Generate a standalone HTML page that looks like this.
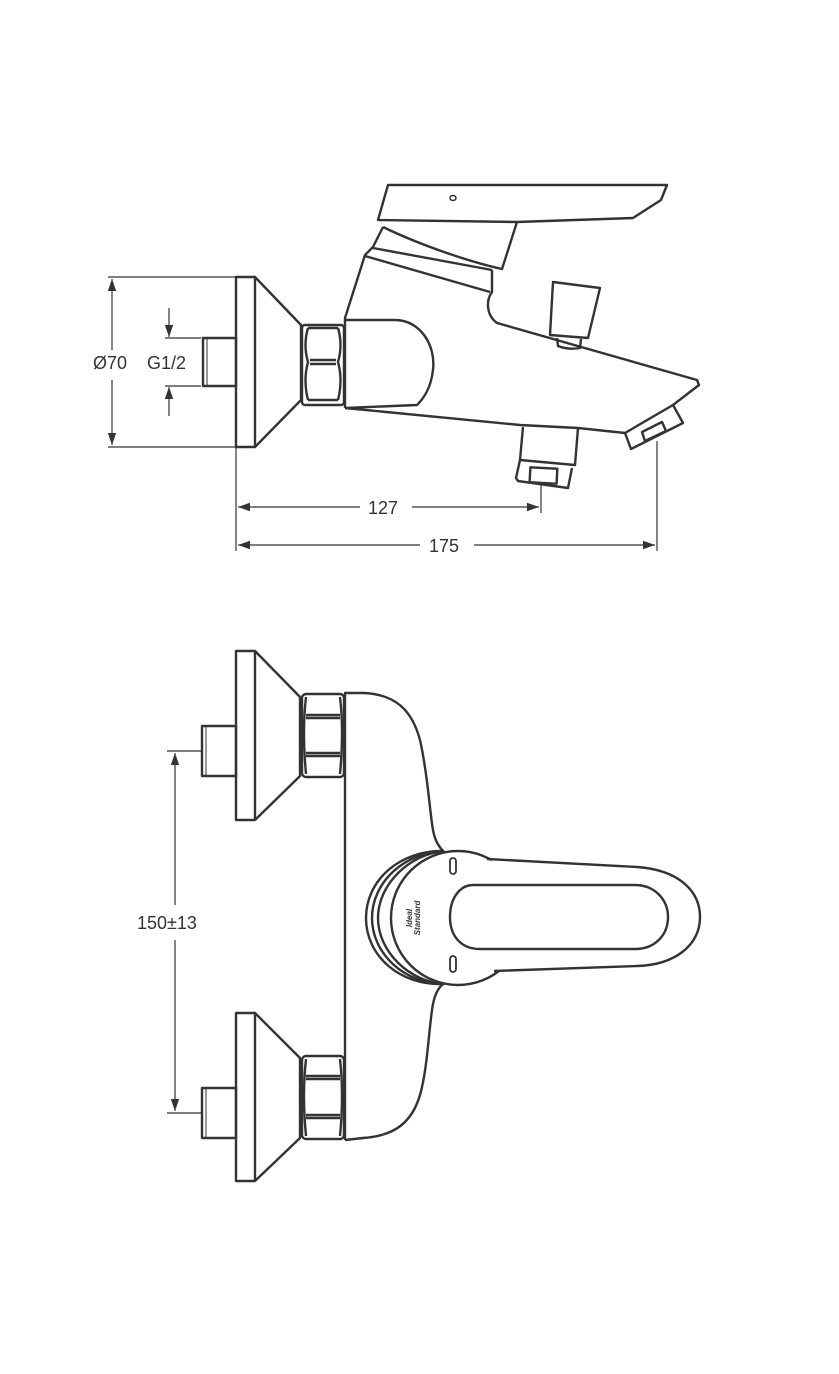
<!DOCTYPE html>
<html><head><meta charset="utf-8"><style>
html,body{margin:0;padding:0;background:#fff;}
svg{display:block;}
text{font-family:"Liberation Sans",sans-serif;fill:#333;}
</style></head><body>
<svg width="839" height="1374" viewBox="0 0 839 1374" xmlns="http://www.w3.org/2000/svg">
<defs>
<marker id="a" viewBox="0 0 10 10" refX="10" refY="5" markerWidth="22" markerHeight="12" markerUnits="userSpaceOnUse" orient="auto"><path d="M0,1.5 L10,5 L0,8.5 Z" fill="#333"/></marker>
</defs>
<g fill="none" stroke="#333" stroke-width="2.4" stroke-linejoin="round">
<!-- TOP VIEW -->
<line x1="108" y1="277" x2="236" y2="277" stroke-width="1.2"/>
<line x1="108" y1="447" x2="236" y2="447" stroke-width="1.2"/>
<line x1="112" y1="350" x2="112" y2="279" stroke-width="1.2" marker-end="url(#a)"/>
<line x1="112" y1="380" x2="112" y2="445" stroke-width="1.2" marker-end="url(#a)"/>
<line x1="165" y1="338" x2="201" y2="338" stroke-width="1.2"/>
<line x1="165" y1="386" x2="201" y2="386" stroke-width="1.2"/>
<line x1="169" y1="308" x2="169" y2="337" stroke-width="1.2" marker-end="url(#a)"/>
<line x1="169" y1="416" x2="169" y2="387" stroke-width="1.2" marker-end="url(#a)"/>
<rect x="203" y="338" width="33" height="48"/>
<line x1="207" y1="339" x2="207" y2="385" stroke-width="1"/>
<rect x="236" y="277" width="19" height="170"/>
<path d="M255,277 L301,325 L301,400 L255,447"/>
<rect x="302" y="325" width="42" height="80" rx="3"/>
<path d="M308,328 Q303,345 308,362 Q303,380 308,400 M338,328 Q343,345 338,362 Q343,380 338,400 M308,328 H338 M308,400 H338 M310,360 H336 M310,364 H336"/>
<path d="M345,408 L345,318 L365,255 L373,247 L383,227"/>
<path d="M365,256 L490,292"/>
<path d="M373,248 L492,270"/>
<path d="M383,227 C420,245 470,262 502,269 L517,222"/>
<path d="M492,270 L492,292 C486,300 486,315 497,323 L697,380 L699,385 L673,405 L625,433 L578,428 L520,425 L345,408"/>
<path d="M388,185 L667,185 L661,200 L633,218 L517,222 L378,220 Z"/>
<ellipse cx="453" cy="198" rx="3" ry="2.5" stroke-width="1.5"/>
<path d="M345,320 H395 C420,320 436,345 433,370 C431,388 424,398 417,405 L345,408"/>
<path d="M553,282 L600,288 L588,338 L550,335 Z"/>
<path d="M557,338 L558,346 Q568,350 580,348 L581,339"/>
<path d="M523,427 L520,460 L575,465 L578,428"/>
<path d="M520,460 L516,478 L518,481 L568,488 L572,468"/>
<rect x="530" y="468" width="27" height="15" transform="rotate(3 543 475)"/>
<path d="M625,433 L631,449 L683,423 L673,405"/>
<path d="M642,432 L662,422 L666,431 L645,441 Z"/>
<line x1="236" y1="447" x2="236" y2="551" stroke-width="1.2"/>
<line x1="541" y1="484" x2="541" y2="513" stroke-width="1.2"/>
<line x1="657" y1="441" x2="657" y2="551" stroke-width="1.2"/>
<line x1="360" y1="507" x2="238" y2="507" stroke-width="1.2" marker-end="url(#a)"/>
<line x1="412" y1="507" x2="539" y2="507" stroke-width="1.2" marker-end="url(#a)"/>
<line x1="420" y1="545" x2="238" y2="545" stroke-width="1.2" marker-end="url(#a)"/>
<line x1="474" y1="545" x2="655" y2="545" stroke-width="1.2" marker-end="url(#a)"/>

<!-- BOTTOM VIEW -->
<rect x="236" y="651" width="19" height="169"/>
<path d="M255,651 L300,697 L300,776 L255,820"/>
<rect x="202" y="726" width="34" height="50"/>
<line x1="206" y1="727" x2="206" y2="775" stroke-width="1"/>
<rect x="302" y="694" width="42" height="83" rx="4"/>
<path d="M306,715 H340 M306,718 H340 M306,753 H340 M306,756 H340 M306,697 Q302,730 306,774 M340,697 Q344,730 340,774"/>
<rect x="236" y="1013" width="19" height="168"/>
<path d="M255,1013 L300,1058 L300,1138 L255,1181"/>
<rect x="202" y="1088" width="34" height="50"/>
<line x1="206" y1="1089" x2="206" y2="1137" stroke-width="1"/>
<rect x="302" y="1056" width="42" height="83" rx="4"/>
<path d="M306,1076 H340 M306,1079 H340 M306,1115 H340 M306,1118 H340 M306,1059 Q302,1095 306,1136 M340,1059 Q344,1095 340,1136"/>
<line x1="167" y1="751" x2="202" y2="751" stroke-width="1.2"/>
<line x1="167" y1="1113" x2="202" y2="1113" stroke-width="1.2"/>
<line x1="175" y1="905" x2="175" y2="753" stroke-width="1.2" marker-end="url(#a)"/>
<line x1="175" y1="940" x2="175" y2="1111" stroke-width="1.2" marker-end="url(#a)"/>
<path d="M345,1140 L345,693 L363,693 C395,694 412,710 420,740 C428,775 430,815 433,830 C435,842 440,848 444,852"/>
<path d="M444,983 C438,988 434,995 432,1010 C428,1040 427,1070 420,1095 C412,1122 395,1136 363,1138 L345,1140"/>
<path d="M444,851 C400,850 366,880 366,918 C366,956 400,986 444,984"/>
<path d="M444,851 C405,852 372,882 372,918 C372,954 405,984 444,984"/>
<path d="M444,851 C410,854 378,884 378,918 C378,952 410,982 444,984"/>
<circle cx="458" cy="918" r="67" fill="#fff"/>
<!-- lever interior cover -->
<path d="M490,860 L637,867 C680,870 700,892 700,917 C700,945 675,965 637,966 L494,971 Q503,963 508,955 L508,880 Q502,871 490,860 Z" fill="#fff" stroke="none"/>
<path d="M487,859 L637,867 C680,870 700,892 700,917 C700,945 675,965 637,966 L494,971"/>
<path d="M473,885 L635,885 C655,885 668,900 668,917 C668,935 655,949 635,949 L480,949 C460,949 450,935 450,917 C450,898 460,885 473,885 Z"/>
<rect x="450" y="858" width="6" height="16" rx="3" stroke-width="1.8"/>
<rect x="450" y="956" width="6" height="16" rx="3" stroke-width="1.8"/>
</g>
<text x="412" y="918" font-size="8" font-family="Liberation Serif,serif" font-style="italic" font-weight="bold" transform="rotate(-90 412 918)" text-anchor="middle">Ideal</text>
<text x="420" y="918" font-size="8" font-family="Liberation Serif,serif" font-style="italic" font-weight="bold" transform="rotate(-90 420 918)" text-anchor="middle">Standard</text>
<text x="93" y="369" font-size="18">Ø70</text>
<text x="147" y="369" font-size="18">G1/2</text>
<text x="368" y="514" font-size="18">127</text>
<text x="429" y="552" font-size="18">175</text>
<text x="137" y="929" font-size="18">150±13</text>
</svg>
</body></html>
